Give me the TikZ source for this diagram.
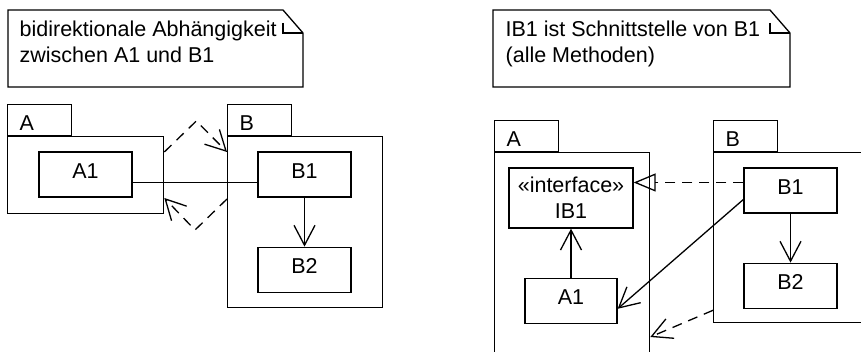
\documentclass[tikz,border=0pt]{standalone}
\usepackage{fontspec}
\setmainfont{Liberation Sans}
\usetikzlibrary{arrows.meta, positioning}

\begin{document}
\begin{tikzpicture}[
    x=1pt, y=-1pt,
    line width=1.3pt,
    node distance=49pt,
    every node/.style={font=\fontsize{21.5}{26}\selectfont},
    pkgbody/.style={rectangle, draw, anchor=north west, inner sep=0pt},
    pkgtab/.style={rectangle, draw, anchor=south west, minimum height=31pt,
                 text width=40pt, align=left, inner xsep=12pt, inner ysep=0pt,
                 text height=22pt, text depth=0pt},
    classbox/.style={rectangle, draw, minimum width=93pt, minimum height=45pt,
                 inner sep=0pt, align=center, text depth=7pt},
    notetext/.style={anchor=base west, inner sep=0pt, align=left},
    assoc/.style={-{Straight Barb[length=20pt, width=21pt]}},
    dep/.style={dash pattern=on 10pt off 7pt, -{Straight Barb[length=20pt, width=21pt]}},
    real/.style={dash pattern=on 10pt off 7pt, -{Triangle[open, length=22pt, width=18pt]}},
  ]
    \clip (0,0) rectangle (861,352);

    % left: notes and packages
    \draw (8,10) -- (283,10) -- (303,33) -- (303,87) -- (8,87) -- cycle;
    \draw (283,23) -- (283,33) -- (303,33);
    \node[notetext] (note1) at (19,63) {bidirektionale Abhängigkeit\\zwischen A1 und B1};

    \node[pkgbody, minimum width=156pt, minimum height=77pt] (pkgAl) at (7,136) {};
    \node[pkgbody, minimum width=155pt, minimum height=171pt] (pkgBl) at (227,136) {};
    \node[pkgtab] (tabAl) at (pkgAl.north west) {A};
    \node[pkgtab] (tabBl) at (pkgBl.north west) {B};

    \node[classbox] (A1l) at (85.5,174.5) {A1};
    \node[classbox] (B1l) at (304.5,174.5) {B1};
    \node[classbox, below=of B1l] (B2l) {B2};

    \draw ([yshift=-8pt]A1l.east) -- ([yshift=-8pt]B1l.west);
    \draw[assoc] (B1l) -- (B2l);
    \draw[dep] ([yshift=-16pt]pkgAl.north east) -- ++(32,-31) -- ([yshift=-16pt]pkgBl.north west);
    \draw[dep] ([yshift=-63pt]pkgBl.north west) -- ++(-32,31) -- ([yshift=-62pt]pkgAl.north east);

    % right: interface
    \draw (493,10) -- (770,10) -- (790,33) -- (790,87) -- (493,87) -- cycle;
    \draw (770,23) -- (770,33) -- (790,33);
    \node[notetext] (note2) at (505,63) {IB1 ist Schnittstelle von B1\\(alle Methoden)};

    \node[pkgbody, minimum width=155pt, minimum height=230pt] (pkgAr) at (494,152) {};
    \node[pkgbody, minimum width=200pt, minimum height=170pt] (pkgBr) at (713,152) {};
    \node[pkgtab] (tabAr) at (pkgAr.north west) {A};
    \node[pkgtab] (tabBr) at (pkgBr.north west) {B};

    \node[classbox, minimum width=124pt, minimum height=60pt, text depth=0pt] (IB1r) at (571,198) {«interface»\\IB1};
    \node[classbox, minimum width=92pt, below=of IB1r] (A1r) {A1};
    \node[classbox] (B1r) at (790.5,190.5) {B1};
    \node[classbox, below=of B1r] (B2r) {B2};

    \draw[assoc] (A1r) -- (IB1r);
    \draw[assoc] (B1r) -- (B2r);
    \draw[real] ([yshift=8pt]B1r.west) -- ([yshift=8pt]B1r.west -| IB1r.east);
    \draw[assoc] ([yshift=-9pt]B1r.west) -- ([yshift=-8pt]A1r.east);
    \draw[dep] ([yshift=13pt]pkgBr.south west) -- ([yshift=-185pt]pkgAr.north east);
  \end{tikzpicture}
\end{document}
